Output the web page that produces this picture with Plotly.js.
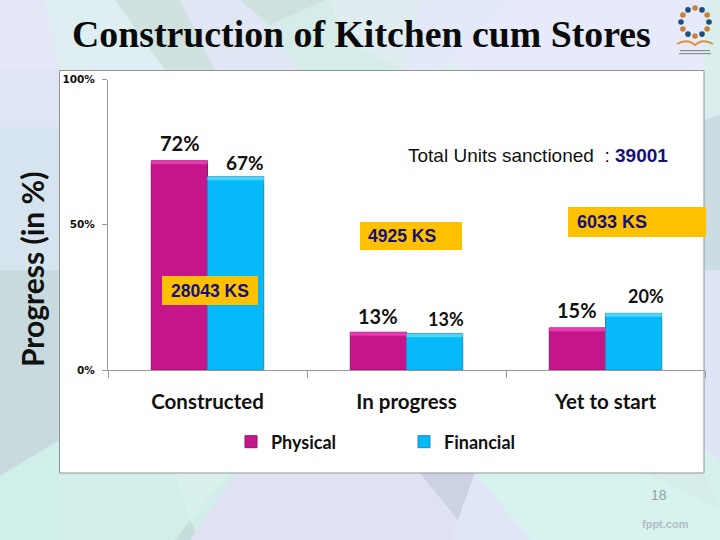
<!DOCTYPE html>
<html>
<head>
<meta charset="utf-8">
<script src="https://cdn.plot.ly/plotly-3.0.1.min.js"></script>
<style>html,body{margin:0;padding:0;background:#fff}#c{width:720px;height:540px}</style>
</head>
<body>
<div id="c"></div>
<script>
var categories = ["Constructed", "In progress", "Yet to start"];
var physical = [72, 13, 14.5];
var financial = [66.5, 12.5, 19.5];
var physicalLabels = ["72%", "13%", "15%"];
var financialLabels = ["67%", "13%", "20%"];
var yTicks = [0, 50, 100];
var yTickLabels = ["0%", "50%", "100%"];
var W = 720, H = 540;
function px(x){return x/W;}
function py(y){return 1-y/H;}
function poly(pts, fill){
  var d = pts.map(function(p,i){return (i?"L":"M")+px(p[0]).toFixed(4)+","+py(p[1]).toFixed(4);}).join(" ")+" Z";
  return {type:"path",xref:"paper",yref:"paper",path:d,fillcolor:fill,line:{width:0},layer:"below"};
}
function box(x0,y0,x1,y1,fill,line,layer){
  return {type:"rect",xref:"paper",yref:"paper",x0:px(x0),x1:px(x1),y0:py(y0),y1:py(y1),fillcolor:fill,line:line||{width:0},layer:layer||"below"};
}
var shapes = [
  box(0,0,720,540,"#dfeef0"),
  poly([[0,0],[45,0],[60,70],[0,70]],"#e4e8f6"),
  poly([[0,70],[60,70],[60,127],[0,127]],"#dfe5f2"),
  poly([[115,0],[180,0],[215,70],[165,70]],"#cfe2e0"),
  poly([[180,0],[245,0],[300,70],[215,70]],"#e1e6f4"),
  poly([[245,0],[330,0],[345,40],[405,70],[300,70]],"#d6ece9"),
  poly([[240,0],[325,0],[270,25]],"#cfe1de"),
  poly([[330,0],[720,0],[720,70],[470,70]],"#e6eafa"),
  poly([[420,0],[510,0],[440,70],[400,70]],"#e3e9f8"),
  poly([[330,0],[420,0],[405,70],[345,40]],"#dfedf1"),
  poly([[0,127],[60,127],[60,270],[0,270]],"#d5e4ee"),
  poly([[0,270],[60,270],[60,440],[0,476]],"#c8dade"),
  poly([[0,476],[60,440],[60,540],[0,540]],"#d0eeea"),
  poly([[60,473],[235,473],[190,540],[60,540]],"#d2eeeb"),
  poly([[175,473],[230,473],[190,520]],"#d9f1ee"),
  poly([[190,520],[175,540],[200,540]],"#c6dedb"),
  poly([[235,473],[480,473],[480,540],[190,540]],"#dfe2f2"),
  poly([[420,473],[475,473],[458,520]],"#ccd1e3"),
  poly([[475,473],[704,473],[720,510],[720,540],[530,540]],"#d6f3ef"),
  poly([[458,520],[475,473],[530,540],[450,540]],"#e0e6f6"),
  poly([[645,473],[720,473],[720,510]],"#d4ecea"),
  poly([[704,0],[720,0],[720,115],[704,120]],"#dbeeee"),
  poly([[704,120],[720,115],[720,270],[704,270]],"#c9dde2"),
  poly([[704,270],[720,270],[720,460],[704,450]],"#dde4f4"),
  poly([[704,450],[720,460],[720,510],[704,473]],"#d6f0ee"),
  box(59.5,70.5,704,473,"#ffffff",{color:"#8f9597",width:1}),
  box(162,276,258,305,"#ffc000",null,"above"),
  box(360,222,462,250,"#ffc000",null,"above"),
  box(568,207,706,237,"#ffc000",null,"above")
];
var ringColors = ["#1f4e79","#c9803a"];
for (var i=0;i<12;i++){
  var a = i*Math.PI/6, cx = 695+14*Math.cos(a), cy = 22+14*Math.sin(a), r = 2.8;
  shapes.push({type:"circle",xref:"paper",yref:"paper",x0:px(cx-r),x1:px(cx+r),y0:py(cy+r),y1:py(cy-r),
    fillcolor:ringColors[i%2],line:{width:0}});
}
shapes.push({type:"path",xref:"paper",yref:"paper",
  path:"M"+px(677)+","+py(44)+" Q"+px(687)+","+py(38)+" "+px(695)+","+py(45)+" Q"+px(703)+","+py(38)+" "+px(713)+","+py(44),
  fillcolor:"rgba(0,0,0,0)",line:{color:"#e0913c",width:2}});
shapes.push(box(680,50,710,51.2,"#8a8f98",null,"above"));
shapes.push(box(679,53,711,54.2,"#8a8f98",null,"above"));

function lab(text,x,y,size){
  return {text:"<b>"+text+"</b>",xref:"paper",yref:"paper",x:px(x),y:py(y),showarrow:false,xanchor:"center",yanchor:"middle",
    font:{family:"Lato, sans-serif",size:size||20,color:"#111111"}};
}
function note(text,x,y,size){
  return {text:"<b>"+text+"</b>",xref:"paper",yref:"paper",x:px(x),y:py(y),showarrow:false,xanchor:"left",yanchor:"middle",
    font:{family:"Liberation Sans, Arial, sans-serif",size:size,color:"#14107a"}};
}
var annotations = [
  {text:"<b>Construction of Kitchen cum Stores</b>",xref:"paper",yref:"paper",x:px(361),y:py(34),showarrow:false,xanchor:"center",yanchor:"middle",
   font:{family:"Liberation Serif, serif",size:37.8,color:"#0a0a0a"}},
  {text:"<b>Progress (in %)</b>",xref:"paper",yref:"paper",x:px(32),y:py(270),showarrow:false,textangle:-90,xanchor:"center",yanchor:"middle",
   font:{family:"Lato, sans-serif",size:30,color:"#111111"}},
  lab(physicalLabels[0],180,143), lab(financialLabels[0],245,163,19),
  lab(physicalLabels[1],378,316), lab(financialLabels[1],446,319,18),
  lab(physicalLabels[2],577,310), lab(financialLabels[2],646,296,18),
  {text:"Total Units sanctioned  : <b><span style='color:#14107a'>39001</span></b>",xref:"paper",yref:"paper",x:px(406),y:py(156),showarrow:false,xanchor:"left",yanchor:"middle",
   font:{family:"Liberation Sans, Arial, sans-serif",size:19,color:"#111111"}},
  note("28043 KS",169,291,17.5), note("4925 KS",366,236,17.5), note("6033 KS",575,222,18),
  {text:"18",xref:"paper",yref:"paper",x:px(669),y:py(505),showarrow:false,font:{family:"Liberation Sans, Arial, sans-serif",size:14,color:"#9a9fa3"}},
  {text:"<b>fppt.com</b>",xref:"paper",yref:"paper",x:px(691),y:py(532),showarrow:false,font:{family:"Liberation Sans, Arial, sans-serif",size:11,color:"#b4bcc0"}}
];

var capDepth = 1.2;
function caps(values){return values.map(function(){return capDepth;});}
function capBase(values){return values.map(function(v){return v-capDepth;});}
var traces = [
  {type:"bar",name:"Physical",x:categories,y:physical,offsetgroup:"p",marker:{color:"#c4168a",line:{color:"#96106a",width:1}}},
  {type:"bar",name:"Financial",x:categories,y:financial,offsetgroup:"f",marker:{color:"#05b9fb",line:{color:"#1a8fbc",width:1}}},
  {type:"bar",name:"Physical top",x:categories,y:caps(physical),base:capBase(physical),offsetgroup:"p",showlegend:false,marker:{color:"#e43cb0",line:{width:0}}},
  {type:"bar",name:"Financial top",x:categories,y:caps(financial),base:capBase(financial),offsetgroup:"f",showlegend:false,marker:{color:"#4fd4f6",line:{width:0}}}
];
var layout = {
  width:W,height:H,margin:{l:0,r:0,t:0,b:0},autosize:false,
  paper_bgcolor:"rgba(0,0,0,0)",plot_bgcolor:"rgba(0,0,0,0)",
  barmode:"group",bargap:0.435,bargroupgap:0,showlegend:true,
  xaxis:{domain:[px(108),px(705)],anchor:"y",type:"category",tickson:"boundaries",ticks:"outside",ticklen:7,tickcolor:"#999999",
    linecolor:"#999999",linewidth:1,showline:true,showgrid:false,ticklabelstandoff:13,
    tickfont:{family:"Lato, sans-serif",size:20.5,color:"#111111",weight:700}},
  yaxis:{domain:[py(370),py(79.5)],anchor:"x",range:[0,100],tickmode:"array",tickvals:yTicks,ticktext:yTickLabels,ticks:"outside",ticklen:5,tickcolor:"#999999",
    linecolor:"#999999",linewidth:1,showline:true,showgrid:false,zeroline:false,ticklabelstandoff:5,
    tickfont:{family:"DejaVu Sans, sans-serif",size:10.5,color:"#111111",weight:700}},
  legend:{orientation:"h",x:px(231),y:py(442),xanchor:"left",yanchor:"middle",bgcolor:"rgba(0,0,0,0)",
    entrywidth:128,entrywidthmode:"pixels",itemwidth:30,
    font:{family:"Lato, sans-serif",size:18,color:"#111111",weight:700}},
  shapes:shapes,annotations:annotations
};
Plotly.newPlot("c",traces,layout,{displayModeBar:false,staticPlot:true});
</script>
</body>
</html>
